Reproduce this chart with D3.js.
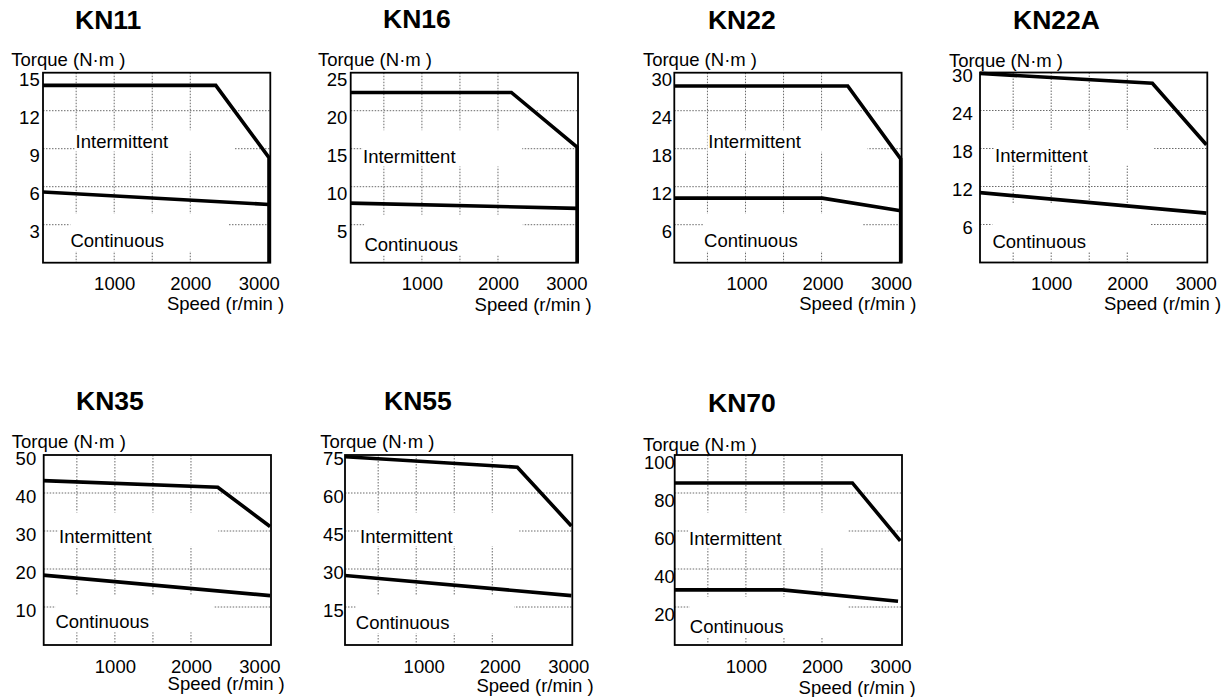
<!DOCTYPE html>
<html><head><meta charset="utf-8">
<script src="https://cdn.jsdelivr.net/npm/d3@7"></script>
<style>
html,body{margin:0;padding:0;background:#fff;}
svg text{font-family:"Liberation Sans",Arial,sans-serif;font-size:18.5px;fill:#000;}
svg text.title{font-size:26.5px;font-weight:bold;}
</style></head><body>
<svg id="chart" width="1229" height="697"></svg>
<script>
// ---------- data ----------
const models = ["KN11","KN16","KN22","KN22A","KN35","KN55","KN70"];
const torqueMax = [15,25,30,30,50,75,100];
const torqueTicks = [
  [3,6,9,12,15],[5,10,15,20,25],[6,12,18,24,30],[6,12,18,24,30],
  [10,20,30,40,50],[15,30,45,60,75],[20,40,60,80,100]
];
const speedDomain = [64, 3052];
const speedTicks = [1000,2000,3000];
const speedGrid = [500,1000,1500,2000];
const intermittentSpeed = [
  [0,2335,3035,3035],[0,2176,3040,3040],[0,2344,3040,3040],
  [0,2330,3040],[0,2352,3040],[0,2330,3040],[0,2400,3030]
];
const intermittentTorque = [
  [14.0,14.0,8.3,0],[22.4,22.4,15.2,0],[27.9,27.9,16.4,0],
  [29.9,28.3,18.6],[43.3,41.5,31.2],[74.4,70.2,47.0],[85.3,85.3,54.8]
];
const continuousSpeed = [
  [0,3035],[0,3040],[0,2010,3040],[0,3040],[0,3040],[0,3040],[0,1480,3000]
];
const continuousTorque = [
  [5.6,4.6],[7.85,7.15],[10.2,10.2,8.2],[11.1,7.8],[18.5,13.0],[27.6,19.5],[29,29,23]
];
const yAxisTitle = "Torque (N·m )";
const xAxisTitle = "Speed (r/min )";
const regionLabels = ["Intermittent","Continuous"];

// ---------- layout (pixels) ----------
const layout = [
  {left:43,    top:72.7, tX:32,   tY:-43.4, yX:-31.7, yY:-6.3, kX:-3.3, kY:13,  iX:32.6, iY:75.3, cX:27.4, cY:174.6, cTop:141,   sh:0,   xY:47.5},
  {left:350.7, top:72.7, tX:32.3, tY:-44.4, yX:-32.8, yY:-6.3, kX:-3.3, kY:13,  iX:12.3, iY:90.3, cX:13.7, cY:178.6, cTop:142,   sh:0,   xY:48.5},
  {left:674.3, top:72.7, tX:33.7, tY:-43.4, yX:-31.4, yY:-6.3, kX:-2.3, kY:13,  iX:34,   iY:75.6, cX:29.8, cY:174.6, cTop:141,   sh:1,   xY:47.4},
  {left:980,   top:72.5, tX:33,   tY:-43.2, yX:-31.1, yY:-5.8, kX:-7.3, kY:8.5, iX:15,   iY:89.6, cX:12.4, cY:175.3, cTop:131,   sh:0,   xY:47},
  {left:43.7,  top:455,  tX:32.3, tY:-45,   yX:-32,   yY:-6.7, kX:-7.5, kY:9,   iX:15.3, iY:88.3, cX:11.7, cY:173.3, cTop:140,   sh:0,   xY:45},
  {left:345,   top:455,  tX:39,   tY:-45,   yX:-24.7, yY:-6.7, kX:-1.3, kY:9,   iX:15,   iY:87.7, cX:10.8, cY:174.3, cTop:141,   sh:7.5, xY:46.5},
  {left:674.7, top:455,  tX:33.3, tY:-42.7, yX:-31.8, yY:-4.3, kX:0.2,  kY:13.5,iX:14.3, iY:90,   cX:15.1, cY:178.3, cTop:141.7, sh:0,   xY:49.3}
];
const W = 227.3, H = 190;

const svg = d3.select("#chart");

models.forEach((name, i) => {
  const L = layout[i];
  const g = svg.append("g").attr("transform", `translate(${L.left},${L.top})`);
  const x = d3.scaleLinear().domain(speedDomain).range([0, W]);
  const y = d3.scaleLinear().domain([0, torqueMax[i]]).range([H, 0]);

  const clipId = "clip" + i;
  g.append("clipPath").attr("id", clipId).append("rect")
    .attr("x", 0).attr("y", -6).attr("width", W + 3).attr("height", H + 6);

  // grid
  const grid = g.append("g").attr("stroke", "#6a6a6a").attr("stroke-width", 1)
    .attr("stroke-dasharray", "1.5,1.5").attr("fill", "none");
  grid.selectAll("line.h").data(torqueTicks[i].filter(v => v < torqueMax[i])).join("line")
    .attr("class", "h").attr("x1", 0).attr("x2", W)
    .attr("y1", d => y(d)).attr("y2", d => y(d));
  grid.selectAll("line.v").data(speedGrid).join("line")
    .attr("class", "v").attr("y1", 0).attr("y2", H)
    .attr("x1", d => x(d)).attr("x2", d => x(d));

  // white label backgrounds that interrupt the grid
  g.append("rect").attr("fill", "#fff")
    .attr("x", L.iX - 0.8).attr("y", 57.5)
    .attr("width", 160).attr("height", L.iY + 3.5 - 57.5);
  g.append("rect").attr("fill", "#fff")
    .attr("x", L.cX - 0.1).attr("y", L.cTop)
    .attr("width", 158.5).attr("height", L.cY + 4 - L.cTop);

  // curves
  const line = d3.line().x(d => x(d[0])).y(d => y(d[1]));
  const curves = g.append("g").attr("clip-path", `url(#${clipId})`)
    .attr("fill", "none").attr("stroke", "#000").attr("stroke-width", 3.6)
    .attr("stroke-linejoin", "miter");
  curves.append("path").attr("d", line(d3.zip(intermittentSpeed[i], intermittentTorque[i])));
  curves.append("path").attr("d", line(d3.zip(continuousSpeed[i], continuousTorque[i])));

  // region labels
  g.append("text").attr("x", L.iX).attr("y", L.iY).text(regionLabels[0]);
  g.append("text").attr("x", L.cX).attr("y", L.cY).text(regionLabels[1]);

  // frame
  g.append("rect").attr("x", 0).attr("y", 0).attr("width", W).attr("height", H)
    .attr("fill", "none").attr("stroke", "#000").attr("stroke-width", 1.8);

  // y axis tick labels
  const ya = g.append("g").attr("transform", `translate(${L.kX},0)`)
    .call(d3.axisLeft(y).tickValues(torqueTicks[i]).tickFormat(d3.format("d"))
      .tickSize(0).tickPadding(0));
  ya.attr("font-size", null).attr("font-family", null);
  ya.select(".domain").remove();
  ya.selectAll("text").attr("x", 0).attr("dy", null).attr("y", L.kY);

  // x axis tick labels
  const xa = g.append("g").attr("transform", `translate(${L.sh},${H})`)
    .call(d3.axisBottom(x).tickValues(speedTicks).tickFormat(d3.format("d"))
      .tickSize(0).tickPadding(0));
  xa.attr("font-size", null).attr("font-family", null);
  xa.select(".domain").remove();
  xa.selectAll("text").attr("dy", null).attr("y", 27.7)
    .attr("x", d => Math.min(0, (W - 11.6) - x(d)));

  // axis titles
  g.append("text").attr("x", L.yX).attr("y", L.yY).text(yAxisTitle);
  g.append("text").attr("x", W + 13.8 + L.sh).attr("y", H + L.xY)
    .attr("text-anchor", "end").text(xAxisTitle);

  // chart title
  g.append("text").attr("class", "title").attr("x", L.tX).attr("y", L.tY).text(name);
});
</script>
</body></html>
